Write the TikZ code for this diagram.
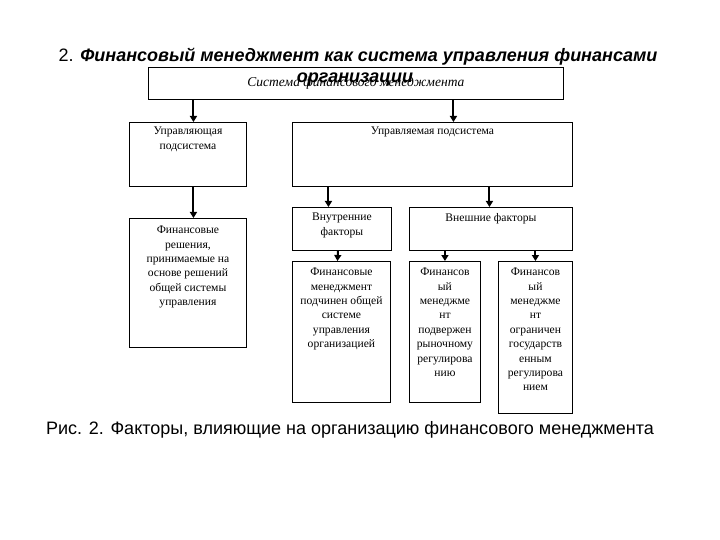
\documentclass[tikz,border=0pt]{standalone}
\usepackage{fontspec}
\setmainfont{Liberation Serif}
\newfontfamily\arialfont{Liberation Sans}
\usepackage{tikz}
\usetikzlibrary{arrows.meta,positioning}

\begin{document}
\begin{tikzpicture}[x=1pt,y=-1pt,
  blk/.style={draw,line width=0.9pt,anchor=north west,inner sep=0pt},
  txt/.style={align=center,font=\fontsize{11.6}{14.4}\selectfont,inner sep=0pt,anchor=north},
  arr/.style={line width=2pt,-{Triangle[length=6pt,width=7pt]}},
  head/.style={font=\arialfont\fontsize{18}{20}\selectfont,inner sep=0pt}]
 \useasboundingbox (0,0) rectangle (720,540);
 % boxes
 \node[blk,minimum width=415,minimum height=32] (top) at (148,67) {};
 \node[blk,minimum width=117,minimum height=64] (ctl) at (129,122) {};
 \node[blk,minimum width=280,minimum height=64] (sub) at (292,122) {};
 \node[blk,minimum width=117,minimum height=129] (dec) at (129,218) {};
 \node[blk,minimum width=99,minimum height=43] (inn) at (292,207) {};
 \node[blk,minimum width=163,minimum height=43] (ext) at (409,207) {};
 \node[blk,minimum width=98,minimum height=141] (fm1) at (292,261) {};
 \node[blk,minimum width=71,minimum height=141] (fm2) at (409,261) {};
 \node[blk,minimum width=74,minimum height=152] (fm3) at (498,261) {};
 % texts in the boxes
 \node[font=\itshape\fontsize{13.5}{15}\selectfont] (toptxt) at (top.center) {Система финансового менеджмента};
 \node[txt,below=5pt of ctl.north] (ctltxt) {Управляющая\\подсистема};
 \node[txt,below=5pt of sub.north] (subtxt) {Управляемая подсистема};
 \node[txt,below=8pt of dec.north] (dectxt) {Финансовые\\решения,\\принимаемые на\\основе решений\\общей системы\\управления};
 \node[txt,below=6pt of inn.north] (inntxt) {Внутренние\\факторы};
 \node[txt,below=6pt of ext.north] (exttxt) {Внешние факторы};
 \node[txt,below=7pt of fm1.north] (fm1txt) {Финансовые\\менеджмент\\подчинен общей\\системе\\управления\\организацией};
 \node[txt,below=7pt of fm2.north] (fm2txt) {Финансов\\ый\\менеджме\\нт\\подвержен\\рыночному\\регулирова\\нию};
 \node[txt,below=7pt of fm3.north] (fm3txt) {Финансов\\ый\\менеджме\\нт\\ограничен\\государств\\енным\\регулирова\\нием};
 % arrows
 \draw[arr] ([xshift=5.5pt]ctl.north |- top.south) -- ([xshift=5.5pt]ctl.north);
 \draw[arr] ([xshift=21pt]sub.north |- top.south) -- ([xshift=21pt]sub.north);
 \draw[arr] ([xshift=5.5pt]ctl.south) -- ([xshift=5.5pt]dec.north);
 \draw[arr] ([xshift=-13.5pt]inn.north |- sub.south) -- ([xshift=-13.5pt]inn.north);
 \draw[arr] ([xshift=-1.5pt]ext.north |- sub.south) -- ([xshift=-1.5pt]ext.north);
 \draw[arr] ([xshift=-4pt]inn.south) -- ([xshift=-4pt]fm1.north);
 \draw[arr] (fm2.north |- ext.south) -- (fm2.north);
 \draw[arr] (fm3.north |- ext.south) -- (fm3.north);
 % title and caption
 \node[head] (title) at (358,57) {2. \textbf{\textit{Финансовый менеджмент как система управления финансами}}};
 \node[head] (title2) at (355,80) {\textbf{\textit{организации}}};
 \node[head] (caption) at (350,430) {Рис. 2. Факторы, влияющие на организацию финансового менеджмента};
\end{tikzpicture}
\end{document}
